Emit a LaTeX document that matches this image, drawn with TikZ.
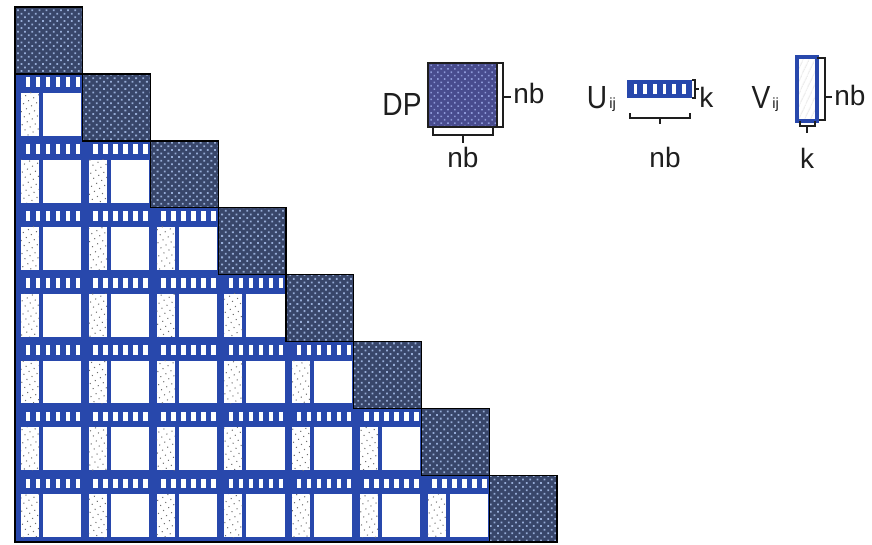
\documentclass[tikz,border=0pt]{standalone}
\usepackage{fontspec}
\setmainfont{Liberation Sans}
\usetikzlibrary{patterns.meta}

\definecolor{lrblue}{RGB}{40,72,172}
\definecolor{diagfill}{RGB}{56,70,106}
\definecolor{diagdot}{RGB}{150,172,215}
\definecolor{dpfill}{RGB}{72,76,142}
\definecolor{dpdot}{RGB}{140,152,215}
\definecolor{speck}{RGB}{110,110,110}
\definecolor{ink}{RGB}{30,30,30}

\tikzset{
  diagblock/.style={fill=diagfill},
  diagdots/.style={pattern={Dots[distance=3.8pt,radius=0.95pt,angle=45]},pattern color=diagdot},
  vdots/.style={pattern={Dots[distance=4.4pt,radius=0.55pt,angle=30]},pattern color=speck},
  bracket/.style={draw=ink,line width=1.3pt},
  bigtxt/.style={text=ink,font=\fontsize{24}{24}\selectfont,xscale=0.88,inner sep=0pt},
  midtxt/.style={text=ink,font=\fontsize{21}{21}\selectfont,inner sep=0pt},
  subtxt/.style={text=ink,font=\fontsize{11}{11}\selectfont,inner sep=0pt}
}

\begin{document}
\begin{tikzpicture}[x=0.75pt,y=-0.75pt]
\useasboundingbox (0,0) rectangle (872,544);
\fill[white] (0,0) rectangle (872,544);

% block grid
\def\bw{67.75}
\def\bh{66.9}
\def\ox{15}
\def\oy{7}

% off-diagonal low-rank blocks: U strip on top, V strip on the left
\foreach \i in {1,...,7} {
  \pgfmathtruncatemacro\jmax{\i-1}
  \foreach \j in {0,...,\jmax} {
    \pgfmathsetmacro\xa{\ox+\j*\bw}
    \pgfmathsetmacro\ya{\oy+\i*\bh}
    \fill[lrblue] (\xa,\ya) rectangle ++(\bw,\bh);
    \foreach \k in {0,...,5}
      \fill[white] ({\xa+10.5+10*\k},{\ya+3.5}) rectangle ++(4.5,9.5);
    \fill[white] ({\xa+6},{\ya+19}) rectangle ({\xa+24},{\ya+\bh-5});
    \fill[vdots] ({\xa+6},{\ya+19}) rectangle ({\xa+24},{\ya+\bh-5});
    \fill[white] ({\xa+28},{\ya+19}) rectangle ({\xa+\bw-1.5},{\ya+\bh-5});
  }
}

% dense diagonal blocks
\foreach \i in {0,...,7} {
  \pgfmathsetmacro\xa{\ox+\i*\bw}
  \pgfmathsetmacro\ya{\oy+\i*\bh}
  \fill[diagblock] (\xa,\ya) rectangle ++(\bw,\bh);
  \fill[diagdots] (\xa,\ya) rectangle ++(\bw,\bh);
  \draw[black,line width=1.1pt] (\xa,\ya) rectangle ++(\bw,\bh);
}

% outer frame of the lower triangle
\draw[black,line width=1.1pt] (\ox,\oy) -- (\ox,{\oy+8*\bh}) -- ({\ox+8*\bw},{\oy+8*\bh});

% legend: dense block
\fill[dpfill] (428,63) rectangle (497,127);
\fill[pattern={Dots[distance=3.6pt,radius=0.85pt,angle=45]},pattern color=dpdot] (428,63) rectangle (497,127);
\draw[ink,line width=1pt] (428,63) rectangle (497,127);
\draw[bracket] (497,63) -- (503,63) -- (503,127) -- (497,127);
\draw[bracket] (503,97) -- (511,97);
\draw[bracket] (433,128) -- (433,135) -- (493,135) -- (493,128);
\draw[bracket] (463,135) -- (463,143);
\node[bigtxt,anchor=base] (dp) at (402,115) {DP};
\node[midtxt,anchor=base west] (dpnbr) at (513,103) {nb};
\node[midtxt,anchor=base] (dpnbb) at (463,167) {nb};

% legend: U factor
\fill[lrblue] (627,80) rectangle (692,98);
\foreach \k in {0,...,5}
  \fill[white] ({633.5+9.7*\k},84) rectangle ++(3.6,10);
\draw[bracket] (692,80) -- (695,80) -- (695,98) -- (692,98);
\draw[bracket] (695,89) -- (699,89);
\draw[bracket] (630,113) -- (630,118) -- (690,118) -- (690,113);
\draw[bracket] (660,118) -- (660,124);
\node[bigtxt,anchor=base] (ulab) at (597,108) {U};
\node[subtxt,anchor=base west] (usub) at (609,108) {ij};
\node[midtxt,anchor=base west] (uk) at (699,107) {k};
\node[midtxt,anchor=base] (unb) at (665,167) {nb};

% legend: V factor
\fill[white] (797,57) rectangle (817,121);
\fill[pattern={Lines[angle=65,distance=4pt,line width=0.4pt]},pattern color=gray!45] (797,57) rectangle (817,121);
\draw[lrblue,line width=2.4pt] (797,57) rectangle (817,121);
\draw[bracket] (817,58) -- (825,58) -- (825,120) -- (819,120);
\draw[bracket] (825,97) -- (832,97);
\draw[bracket] (800,121) -- (800,126) -- (815,126) -- (815,121);
\draw[bracket] (807,126) -- (807,133);
\node[bigtxt,anchor=base] (vlab) at (761,108) {V};
\node[subtxt,anchor=base west] (vsub) at (772,108) {ij};
\node[midtxt,anchor=base west] (vnb) at (834,105) {nb};
\node[midtxt,anchor=base] (vk) at (807,168) {k};
\end{tikzpicture}
\end{document}
